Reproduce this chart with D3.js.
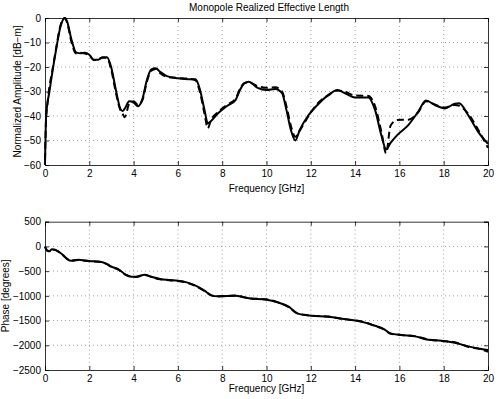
<!DOCTYPE html>
<html>
<head>
<meta charset="UTF-8">
<title>Monopole Realized Effective Length</title>
<script src="https://cdn.jsdelivr.net/npm/d3@7"></script>
<style>
body { margin: 0; background: #fff; }
text { font-family: "Liberation Sans", Arial, Helvetica, sans-serif; }
</style>
</head>
<body>
<div id="plot"></div>
<script>

// amplitude data (dB-m) -- solid = model, dashed = measured
var ampFreq = [0, 0.05, 0.1, 0.2, 0.3, 0.5, 0.7, 0.9, 1.0, 1.2, 1.4, 1.6, 1.8, 2.0, 2.2, 2.4, 2.6, 2.8, 3.0, 3.2, 3.4, 3.5, 3.6, 3.8, 4.0, 4.2, 4.4, 4.6, 4.8, 5.0, 5.2, 5.5, 6.0, 6.5, 6.8, 7.0, 7.2, 7.35, 7.5, 7.8, 8.2, 8.6, 8.8, 9.0, 9.2, 9.6, 10.0, 10.4, 10.7, 10.9, 11.1, 11.3, 11.5, 11.9, 12.3, 12.8, 13.2, 13.5, 14.0, 14.6, 14.9, 15.2, 15.4, 15.6, 15.9, 16.4, 16.85, 17.2, 17.6, 18.05, 18.5, 18.7, 19.1, 19.55, 20];
var ampSolid = [-60, -40, -35.5, -30, -24, -13, -3.5, 0, -1.5, -9, -14, -14.4, -14.2, -15, -17, -17, -16, -16, -20.5, -29.4, -37, -38, -37, -34, -34.5, -36, -33, -25.3, -21, -20.5, -22, -23.7, -24.6, -25, -25, -29.4, -37.5, -43, -42, -39, -36, -33.5, -29.4, -26.7, -26, -28.5, -29.4, -29, -30.7, -37.5, -45.7, -50, -45.7, -39.6, -35.5, -31.4, -29.4, -30.5, -32.4, -32.4, -37.5, -48.4, -53.6, -51, -47.8, -43.7, -38.2, -33.7, -35.5, -36.9, -35, -34.8, -39.6, -46.4, -51.4];
var ampDashed = [-58, -41, -36, -28, -23, -12.5, -3, 0, -2, -10, -14.5, -14.2, -14.5, -15.2, -17.2, -16.8, -16.2, -16.3, -21.5, -30.5, -37.5, -39, -40.5, -35, -34, -35.5, -33.5, -26, -21.5, -20.8, -22.5, -24, -24.5, -24.8, -25.5, -30.5, -39, -45, -41.5, -38.5, -35.5, -33, -29, -26.5, -26.3, -27.8, -28.5, -28.3, -30, -36, -44, -48.5, -46, -40, -35, -31.5, -29.6, -30, -31.6, -31.8, -36, -47, -55.2, -44, -41.6, -41.5, -38.5, -34, -35.3, -36.5, -35.5, -35.8, -39, -45.5, -53];

// phase data (degrees)
var phFreq = [0, 0.1, 0.2, 0.3, 0.45, 0.6, 0.8, 1.0, 1.2, 1.5, 2.0, 2.5, 2.8, 3.0, 3.3, 3.6, 3.9, 4.1, 4.5, 4.8, 5.2, 5.6, 6.0, 6.4, 6.8, 7.2, 7.5, 7.8, 8.2, 8.6, 9.0, 9.2, 10.0, 10.5, 11.0, 11.4, 12.0, 12.8, 13.5, 14.3, 14.9, 15.3, 15.6, 16.1, 16.7, 17.3, 17.9, 18.5, 19.1, 19.7, 20];
var phSolid = [0, -88, -100, -55, -67, -100, -170, -256, -290, -270, -296, -310, -357, -411, -458, -560, -613, -613, -573, -613, -660, -680, -694, -727, -795, -896, -984, -1010, -1004, -997, -1031, -1050, -1078, -1132, -1220, -1354, -1402, -1422, -1469, -1523, -1604, -1671, -1759, -1793, -1820, -1887, -1907, -1947, -2022, -2075, -2096];
var phDashed = [-10, -80, -95, -60, -70, -105, -175, -250, -285, -275, -300, -315, -360, -420, -465, -565, -610, -618, -578, -618, -665, -684, -698, -732, -800, -905, -990, -1012, -1000, -993, -1028, -1048, -1070, -1128, -1228, -1360, -1398, -1418, -1472, -1518, -1610, -1680, -1765, -1790, -1815, -1880, -1912, -1940, -2030, -2085, -2130];

var xTicks = [0, 2, 4, 6, 8, 10, 12, 14, 16, 18, 20];
var ampTicks = [0, -10, -20, -30, -40, -50, -60];
var phTicks = [500, 0, -500, -1000, -1500, -2000, -2500];

var W = 500, H = 399;
var left = 45, right = 488;
var fs = 10;

var svg = d3.select("#plot").append("svg")
	.attr("width", W)
	.attr("height", H);

var x = d3.scaleLinear().domain([0, 20]).range([left, right]);

function drawPanel(top, bottom, ydomain, yticks, ylabel, xlabOff, freq, solid, dashed) {
	var y = d3.scaleLinear().domain(ydomain).range([bottom, top]);
	var g = svg.append("g");

	// dotted grid
	g.selectAll(".vgrid").data(xTicks.slice(1, -1)).enter()
		.append("line")
		.attr("x1", function(d) { return x(d); })
		.attr("x2", function(d) { return x(d); })
		.attr("y1", top).attr("y2", bottom)
		.attr("stroke", "#888").attr("stroke-width", 0.8)
		.attr("stroke-dasharray", "1,3");
	g.selectAll(".hgrid").data(yticks.slice(1, -1)).enter()
		.append("line")
		.attr("x1", left).attr("x2", right)
		.attr("y1", function(d) { return y(d); })
		.attr("y2", function(d) { return y(d); })
		.attr("stroke", "#888").attr("stroke-width", 0.8)
		.attr("stroke-dasharray", "1,3");

	// axes, ticks pointing inward like matlab
	var xb = g.append("g").attr("transform", "translate(0," + bottom + ")")
		.call(d3.axisBottom(x).tickValues(xTicks).tickSize(-4).tickPadding(5).tickFormat(d3.format("d")));
	var xt = g.append("g").attr("transform", "translate(0," + top + ")")
		.call(d3.axisTop(x).tickValues(xTicks).tickSize(-4).tickFormat(""));
	var yl = g.append("g").attr("transform", "translate(" + left + ",0)")
		.call(d3.axisLeft(y).tickValues(yticks).tickSize(-4).tickPadding(4).tickFormat(function(d) { return String(d).replace("-", "\u2212"); }));
	var yr = g.append("g").attr("transform", "translate(" + right + ",0)")
		.call(d3.axisRight(y).tickValues(yticks).tickSize(-4).tickFormat(""));
	[xb, xt, yl, yr].forEach(function(a) {
		a.selectAll("path").attr("stroke", "#000").attr("stroke-width", 0.8);
		a.selectAll("line").attr("stroke", "#000").attr("stroke-width", 0.8);
		a.selectAll("text").attr("font-size", fs).attr("fill", "#000")
			.style("font-family", "'Liberation Sans', Arial, sans-serif");
	});

	// x label
	g.append("text")
		.attr("x", (left + right) / 2)
		.attr("y", bottom + xlabOff)
		.attr("text-anchor", "middle")
		.attr("font-size", fs)
		.text("Frequency [GHz]");

	// y label
	g.append("text")
		.attr("transform", "translate(" + (ylabel.x) + "," + ((top + bottom) / 2) + ") rotate(-90)")
		.attr("text-anchor", "middle")
		.attr("font-size", fs)
		.text(ylabel.text);

	var line = d3.line()
		.x(function(d) { return x(d[0]); })
		.y(function(d) { return y(d[1]); })
		.curve(d3.curveMonotoneX);

	g.append("path")
		.datum(d3.zip(freq, dashed))
		.attr("d", line)
		.attr("fill", "none")
		.attr("stroke", "#000")
		.attr("stroke-width", 2)
		.attr("stroke-dasharray", "7,4");

	g.append("path")
		.datum(d3.zip(freq, solid))
		.attr("d", line)
		.attr("fill", "none")
		.attr("stroke", "#000")
		.attr("stroke-width", 2);
}

drawPanel(18, 165, [-60, 0], ampTicks, { x: 21, text: "Normalized Amplitude [dB\u2212m]" }, 27, ampFreq, ampSolid, ampDashed);
drawPanel(221.7, 370, [-2500, 500], phTicks, { x: 9, text: "Phase [degrees]" }, 22, phFreq, phSolid, phDashed);

// title
svg.append("text")
	.attr("x", 269)
	.attr("y", 11)
	.attr("text-anchor", "middle")
	.attr("font-size", fs)
	.text("Monopole Realized Effective Length");

</script>
</body>
</html>
